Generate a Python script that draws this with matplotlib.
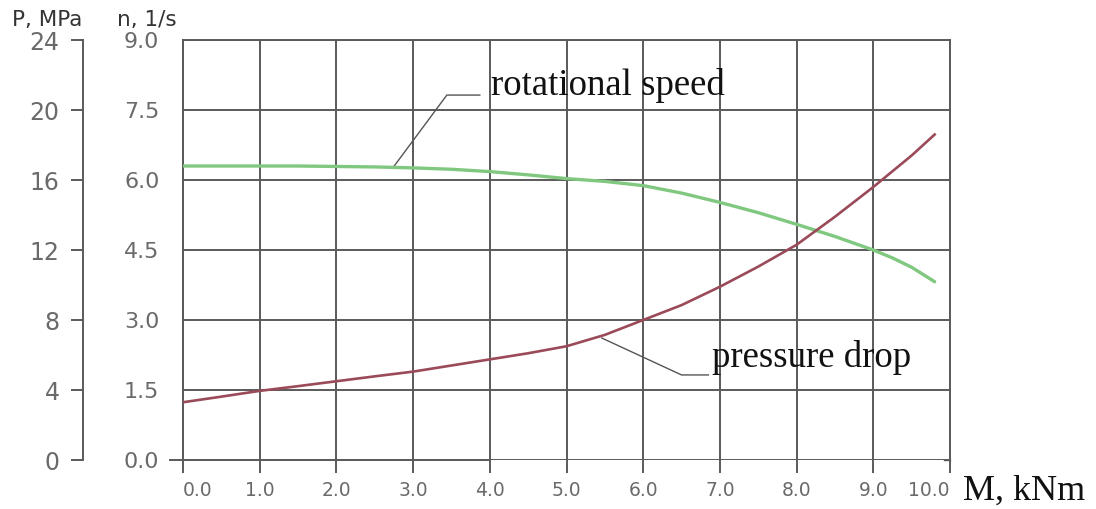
import matplotlib.pyplot as plt
import numpy as np

# torque M, kNm
m = [0, 0.5, 1, 1.5, 2, 2.5, 3, 3.5, 4, 4.5, 5, 5.5, 6, 6.5, 7, 7.5, 8, 8.5, 9, 9.25, 9.5, 9.8]

# rotational speed n, 1/s
speed = [6.30, 6.30, 6.30, 6.30, 6.29, 6.28, 6.26, 6.23, 6.18, 6.11, 6.03, 5.97, 5.88, 5.72, 5.52, 5.30, 5.05, 4.79, 4.50, 4.33, 4.13, 3.82]

# pressure drop P, MPa
pressure = [3.3, 3.62, 3.95, 4.22, 4.5, 4.78, 5.05, 5.4, 5.75, 6.1, 6.5, 7.15, 8.0, 8.85, 9.9, 11.05, 12.3, 13.9, 15.6, 16.5, 17.4, 18.6]

x_ticks = [0, 1, 2, 3, 4, 5, 6, 7, 8, 9, 10]
n_ticks = [0, 1.5, 3.0, 4.5, 6.0, 7.5, 9.0]
p_ticks = [0, 4, 8, 12, 16, 20, 24]

grid_col = '#5a5a5a'
tick_col = '#6a6a6a'
serif = 'Liberation Serif'

fig = plt.figure(figsize=(10.96, 5.09), dpi=100)
ax = fig.add_axes([183 / 1096, 1 - 460 / 509, 767 / 1096, 420 / 509])

# --- n axis (main) ---
ax.set_xlim(0, 10)
ax.set_ylim(0, 9)
ax.set_xticks(x_ticks)
ax.set_xticklabels(['%.1f' % v for v in x_ticks])
ax.set_yticks(n_ticks)
ax.set_yticklabels(['%.1f' % v for v in n_ticks])
ax.grid(True, color=grid_col, linewidth=1.4)
ax.set_axisbelow(True)
ax.tick_params(axis='x', direction='out', length=9, width=1.4, color=grid_col,
               labelsize=13.5, labelcolor=tick_col, pad=6)
ax.tick_params(axis='y', length=0, labelsize=16, labelcolor=tick_col, pad=17)
for s in ['top', 'right', 'left', 'bottom']:
    ax.spines[s].set_color(grid_col)
    ax.spines[s].set_linewidth(1.4)
ax.spines['bottom'].set_bounds(-0.17, 4.0)

labels = ax.get_xticklabels()
labels[0].set_ha('left')
labels[-1].set_ha('right')

ax.plot(m, speed, color='#80c880', linewidth=2.4, solid_capstyle='round', zorder=3)

# small mark at the right end of the x axis
ax.plot([9.92, 10.0], [0, 0], color=grid_col, linewidth=1.0, clip_on=False)

# --- P axis (outer left) ---
axp = ax.twinx()
axp.set_ylim(0, 24)
axp.set_yticks(p_ticks)
axp.yaxis.set_ticks_position('left')
axp.yaxis.set_label_position('left')
axp.spines['left'].set_position(('outward', 72))
axp.spines['left'].set_color(grid_col)
axp.spines['left'].set_linewidth(1.4)
for s in ['top', 'right', 'bottom']:
    axp.spines[s].set_visible(False)
axp.tick_params(axis='y', direction='out', length=9, width=1.4, color=grid_col,
                labelsize=17, labelcolor=tick_col, pad=8)
axp.plot(m, pressure, color='#9a4a58', linewidth=1.9, zorder=3)

# --- annotations ---
ax.plot([3.87, 3.44, 2.74], [7.82, 7.82, 6.27], color='#555555', linewidth=1.0)
ax.text(4.02, 7.82, 'rotational speed', fontsize=26.5, family=serif, color='#111111',
        ha='left', va='baseline')

axp.plot([6.85, 6.5, 5.46], [4.86, 4.86, 6.97], color='#555555', linewidth=1.0)
axp.text(6.9, 5.31, 'pressure drop', fontsize=26.5, family=serif, color='#111111',
         ha='left', va='baseline')

# axis titles
fig.text(12 / 1096, 1 - 20 / 509, 'P, MPa', fontsize=15.5, color='#333333',
         ha='left', va='center')
fig.text(117 / 1096, 1 - 20 / 509, 'n, 1/s', fontsize=15.5, color='#333333',
         ha='left', va='center')
fig.text(963 / 1096, 1 - 491 / 509, 'M, kNm', fontsize=26, family=serif,
         color='#111111', ha='left', va='center')

fig.savefig('out.png', dpi=100)
